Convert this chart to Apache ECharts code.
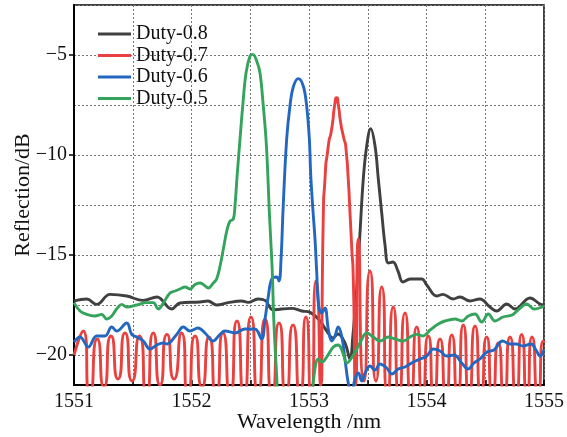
<!DOCTYPE html>
<html>
<head>
<meta charset="utf-8">
<script src="https://cdn.jsdelivr.net/npm/echarts@6/dist/echarts.min.js"></script>
<style>
html,body{margin:0;padding:0;background:#fff;}
#c{width:567px;height:437px;}
</style>
</head>
<body>
<div id="c"></div>
<script>
// ---- data (wavelength in nm, reflection in dB) ----
var seriesNames = ['Duty-0.8', 'Duty-0.7', 'Duty-0.6', 'Duty-0.5'];
var xTicks = [1551, 1552, 1553, 1554, 1555];
var yTicks = [-20, -15, -10, -5];

var wl08 = [1551.000,1551.108,1551.193,1551.306,1551.449,1551.587,1551.706,1551.831,1551.902,1552.072,1552.140,1552.214,1552.311,1552.427,1552.481,1552.566,1552.626,1552.694,1552.768,1552.853,1552.938,1553.009,1553.094,1553.151,1553.204,1553.247,1553.306,1553.349,1553.374,1553.391,1553.406,1553.420,1553.434,1553.462,1553.491,1553.525,1553.562,1553.590,1553.619,1553.647,1553.675,1553.715,1553.757,1553.800,1553.860,1553.959,1554.002,1554.087,1554.140,1554.226,1554.285,1554.370,1554.455,1554.540,1554.597,1554.683,1554.753,1554.881,1554.966,1555.000];
var db08 = [-17.3,-17.2,-17.47,-16.97,-17.05,-17.27,-17.1,-17.7,-17.4,-17.35,-17.3,-17.5,-17.38,-17.3,-17.37,-17.2,-17.27,-17.75,-17.7,-17.67,-17.8,-17.87,-18.3,-18.8,-19.15,-18.95,-19.4,-20.2,-19.0,-17.8,-16.7,-15.3,-13.9,-11.2,-9.55,-8.68,-9.55,-11.2,-12.9,-14.5,-15.4,-15.35,-15.8,-16.35,-16.2,-16.2,-16.5,-17.05,-16.97,-17.2,-17.1,-17.3,-17.2,-17.6,-17.8,-17.45,-17.7,-17.15,-17.45,-17.5];

var wl07 = [1551.000,1551.079,1551.136,1551.198,1551.255,1551.315,1551.374,1551.434,1551.494,1551.557,1551.617,1551.675,1551.732,1551.791,1551.851,1551.915,1551.970,1552.030,1552.089,1552.149,1552.209,1552.268,1552.328,1552.387,1552.447,1552.506,1552.566,1552.626,1552.685,1552.745,1552.804,1552.864,1552.923,1552.974,1553.017,1553.060,1553.098,1553.122,1553.136,1553.164,1553.193,1553.221,1553.236,1553.249,1553.270,1553.292,1553.315,1553.334,1553.349,1553.363,1553.377,1553.396,1553.420,1553.468,1553.519,1553.570,1553.619,1553.668,1553.717,1553.766,1553.817,1553.868,1553.917,1553.966,1554.015,1554.064,1554.115,1554.166,1554.215,1554.264,1554.313,1554.362,1554.413,1554.464,1554.512,1554.562,1554.611,1554.660,1554.711,1554.762,1554.810,1554.855,1554.898,1554.949,1554.994,1555.000];
var db07 = [-20.0,-18.8,-22.0,-19.2,-21.6,-19.05,-21.2,-18.9,-21.3,-19.05,-22.0,-18.9,-21.5,-18.97,-21.2,-18.9,-22.0,-19.05,-21.6,-19.1,-22.0,-18.9,-22.0,-18.3,-22.0,-18.1,-22.0,-18.2,-22.0,-18.4,-22.0,-18.5,-22.0,-18.1,-22.0,-16.3,-21.5,-12.9,-11.2,-9.55,-8.7,-7.4,-7.13,-7.47,-8.4,-9.05,-9.7,-11.2,-12.9,-14.55,-16.2,-21.5,-14.2,-21.3,-15.8,-21.3,-16.6,-22.0,-17.6,-22.0,-17.9,-22.0,-18.6,-22.0,-19.05,-22.0,-19.2,-22.0,-19.0,-22.0,-18.5,-22.0,-18.55,-22.0,-19.1,-22.0,-19.4,-22.0,-19.1,-22.0,-18.97,-22.0,-19.1,-22.0,-19.3,-19.4];

var wl06 = [1551.000,1551.051,1551.122,1551.193,1551.264,1551.321,1551.363,1551.449,1551.491,1551.534,1551.590,1551.647,1551.704,1551.760,1551.789,1551.874,1551.930,1551.987,1552.055,1552.115,1552.183,1552.243,1552.285,1552.370,1552.455,1552.540,1552.597,1552.626,1552.654,1552.683,1552.725,1552.745,1552.762,1552.781,1552.810,1552.838,1552.866,1552.909,1552.951,1552.980,1553.003,1553.014,1553.031,1553.051,1553.066,1553.081,1553.108,1553.136,1553.164,1553.193,1553.221,1553.249,1553.278,1553.306,1553.334,1553.362,1553.391,1553.420,1553.449,1553.477,1553.519,1553.562,1553.604,1553.661,1553.706,1553.760,1553.817,1553.888,1553.945,1554.002,1554.058,1554.115,1554.172,1554.234,1554.300,1554.353,1554.404,1554.455,1554.515,1554.574,1554.647,1554.711,1554.762,1554.821,1554.889,1554.932,1554.966,1555.000];
var db06 = [-19.35,-19.1,-19.6,-19.05,-19.05,-18.6,-18.8,-18.4,-18.97,-19.1,-19.3,-19.7,-19.5,-19.4,-19.45,-18.97,-18.6,-18.8,-18.65,-18.9,-19.3,-18.97,-18.8,-18.9,-18.7,-18.7,-19.2,-18.2,-17.05,-16.2,-16.1,-16.3,-15.2,-12.5,-9.2,-7.55,-6.6,-6.18,-6.55,-7.55,-9.2,-10.9,-12.55,-14.2,-15.9,-17.5,-17.9,-17.65,-18.7,-19.3,-19.05,-18.6,-19.05,-20.2,-21.4,-22.0,-21.2,-20.9,-21.3,-20.9,-20.55,-20.75,-20.45,-20.65,-20.95,-20.7,-20.6,-20.35,-20.2,-20.05,-19.7,-19.8,-20.05,-20.0,-20.4,-20.7,-20.4,-20.2,-19.85,-19.75,-19.3,-19.45,-19.45,-19.55,-19.45,-19.75,-20.05,-19.75];

var wl05 = [1551.000,1551.051,1551.108,1551.179,1551.236,1551.278,1551.321,1551.363,1551.406,1551.449,1551.534,1551.619,1551.675,1551.717,1551.760,1551.817,1551.860,1551.902,1551.945,1551.987,1552.030,1552.072,1552.106,1552.143,1552.186,1552.214,1552.243,1552.271,1552.300,1552.328,1552.356,1552.370,1552.390,1552.413,1552.436,1552.464,1552.498,1552.521,1552.555,1552.583,1552.611,1552.634,1552.649,1552.660,1552.674,1552.688,1552.700,1552.725,1552.745,1553.009,1553.037,1553.079,1553.111,1553.151,1553.207,1553.249,1553.289,1553.323,1553.377,1553.434,1553.491,1553.547,1553.604,1553.675,1553.732,1553.803,1553.860,1553.917,1553.973,1554.030,1554.100,1554.157,1554.243,1554.300,1554.356,1554.413,1554.470,1554.526,1554.583,1554.651,1554.728,1554.779,1554.853,1554.915,1555.000];
var db05 = [-17.38,-17.8,-17.97,-18.05,-17.97,-18.2,-18.05,-17.7,-17.47,-17.6,-17.5,-17.38,-17.38,-17.7,-17.4,-16.9,-16.8,-16.7,-16.6,-16.7,-16.47,-16.4,-16.5,-16.65,-16.4,-16.2,-15.55,-14.7,-13.8,-13.3,-13.2,-12.55,-10.9,-9.2,-7.55,-5.9,-5.05,-4.97,-5.3,-5.9,-7.55,-9.2,-10.9,-12.55,-14.2,-15.9,-18.2,-21.05,-23,-23,-21.3,-20.2,-20.35,-20.1,-19.6,-19.5,-19.9,-20.4,-20.0,-19.4,-18.9,-19.1,-19.3,-19.1,-19.2,-19.3,-19.1,-18.97,-19.05,-18.75,-18.45,-18.3,-18.2,-18.3,-18.05,-17.95,-18.35,-17.95,-18.3,-18.1,-18.0,-17.75,-17.45,-17.7,-17.55];

var colors = ['#404040', '#e8413f', '#2367c0', '#34a35b'];
var smoothness = [0.4, 0.85, 0.4, 0.4];

function zip(a, b) { return a.map(function (v, i) { return [v, b[i]]; }); }
var wls = [wl08, wl07, wl06, wl05];
var dbs = [db08, db07, db06, db05];

var FONT = "'Liberation Serif','Times New Roman',serif";
function minus(v) { return v < 0 ? '\u2212' + Math.abs(v) : String(v); }

var chart = echarts.init(document.getElementById('c'), null, { renderer: 'canvas' });
chart.setOption({
  animation: false,
  backgroundColor: '#fff',
  color: colors,
  grid: { left: 74, right: 23, top: 5, bottom: 52, show: true, borderColor: '#000', borderWidth: 1.5,
          backgroundColor: 'transparent', containLabel: false, outerBoundsMode: 'none' },
  legend: {
    left: 93, top: 19, orient: 'vertical', itemWidth: 33, itemHeight: 3, itemGap: 1.5,
    icon: 'rect',
    data: seriesNames,
    textStyle: { fontFamily: FONT, fontSize: 20, color: '#111', lineHeight: 19.5 }
  },
  xAxis: {
    type: 'value', min: 1551, max: 1555, interval: 0.5,
    name: 'Wavelength /nm', nameLocation: 'middle', nameGap: 26, nameMoveOverlap: false,
    nameTextStyle: { fontFamily: FONT, fontSize: 22, color: '#111' },
    axisLine: { show: true, onZero: false, lineStyle: { color: '#000', width: 2 } },
    axisTick: { show: true, inside: true, length: 5, lineStyle: { color: '#000', width: 1.5 } },
    axisLabel: { fontFamily: FONT, fontSize: 20, color: '#111', margin: 7, customValues: xTicks, formatter: function (v) { return String(v); } },
    splitLine: { show: true, lineStyle: { color: '#777', type: [2, 2], width: 1 } }
  },
  yAxis: [{
    type: 'value', min: -21.5, max: -2.5, minInterval: 2.5, maxInterval: 2.5,
    axisLine: { show: true, onZero: false, lineStyle: { color: '#000', width: 2 } },
    axisTick: { show: false },
    axisLabel: { show: false },
    splitLine: { show: true, lineStyle: { color: '#777', type: [2, 2], width: 1 } }
  }, {
    type: 'value', min: -21.5, max: -2.5, position: 'left',
    name: 'Reflection/dB', nameLocation: 'middle', nameGap: 40, nameRotate: 90, nameMoveOverlap: false,
    nameTextStyle: { fontFamily: FONT, fontSize: 22, color: '#111' },
    axisLine: { show: false },
    axisTick: { show: true, inside: false, length: 5, customValues: yTicks, lineStyle: { color: '#000', width: 1.5 } },
    axisLabel: { fontFamily: FONT, fontSize: 20, color: '#111', margin: 7, customValues: yTicks, formatter: minus },
    splitLine: { show: false }
  }],
  series: seriesNames.map(function (n, i) {
    return {
      name: n, type: 'line', xAxisIndex: 0, yAxisIndex: 0,
      data: zip(wls[i], dbs[i]),
      showSymbol: false, symbol: 'none', smooth: smoothness[i], clip: true,
      lineStyle: { width: 2.9, color: colors[i] },
      itemStyle: { color: colors[i] }
    };
  })
});
</script>
</body>
</html>
